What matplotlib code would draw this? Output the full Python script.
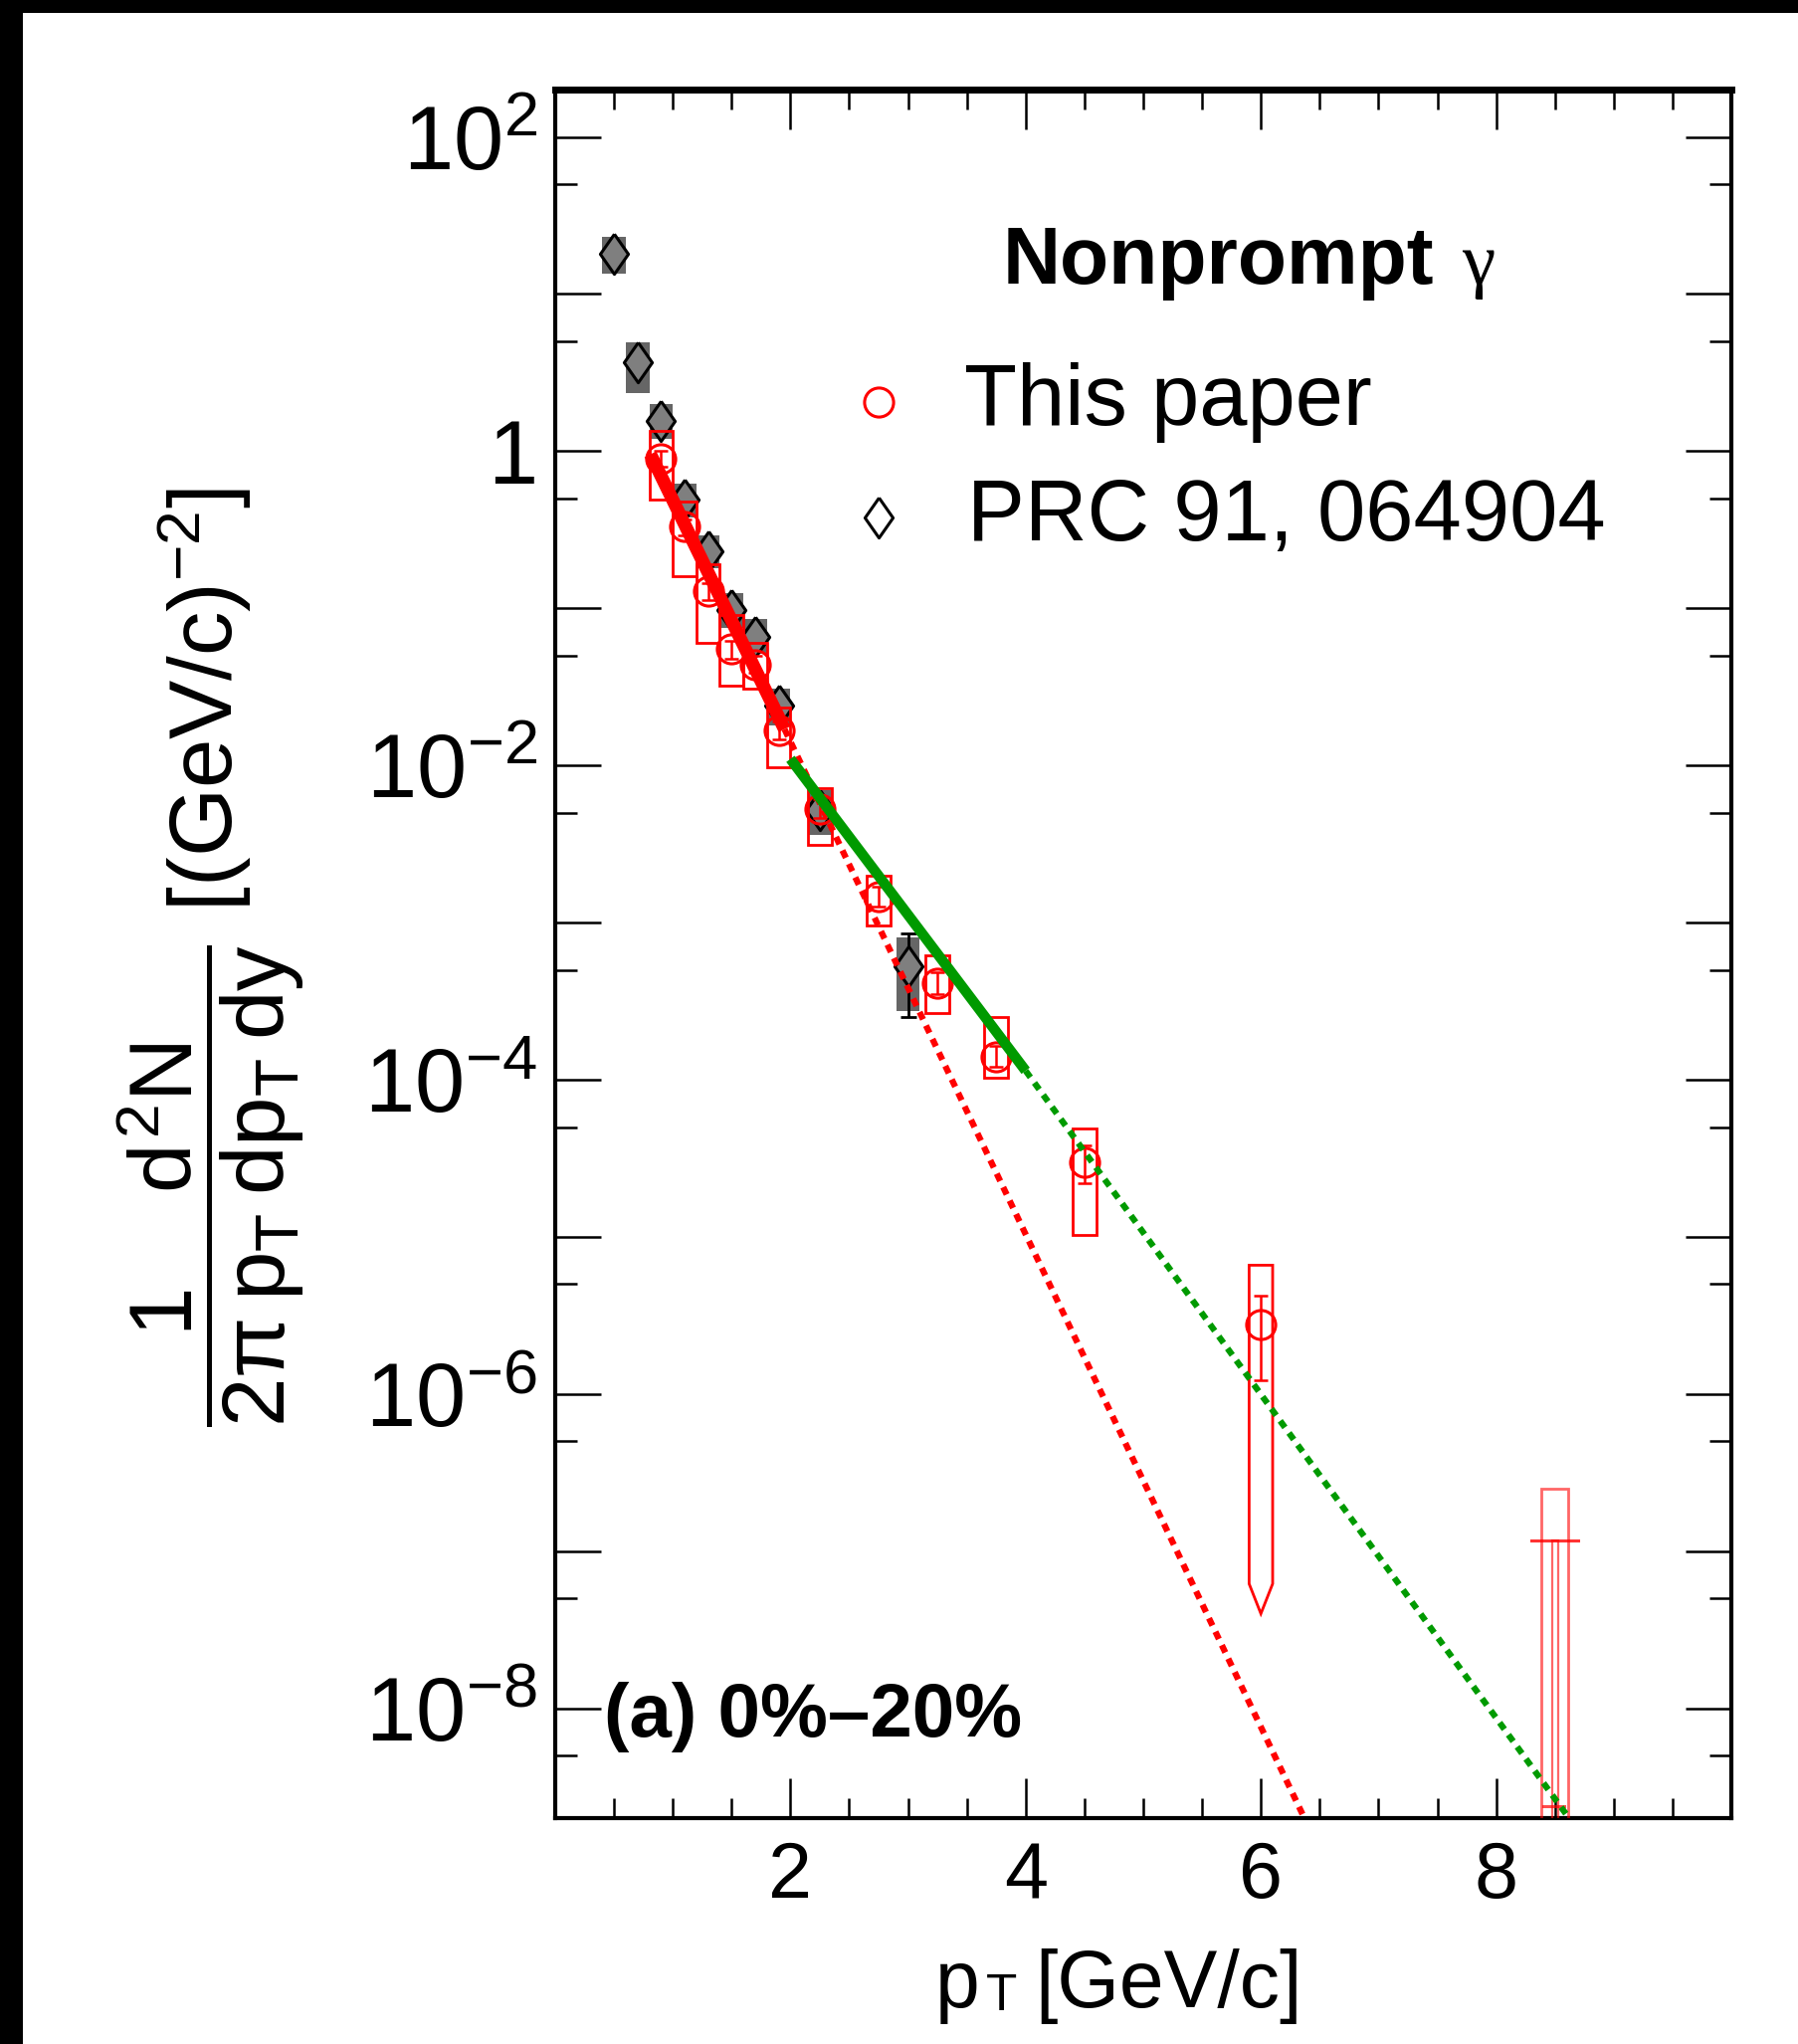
#!/usr/bin/env python3

import matplotlib
matplotlib.use("Agg")
import matplotlib.pyplot as plt
import numpy as np
from matplotlib.patches import Polygon, Rectangle
from matplotlib.ticker import FuncFormatter, LogLocator, MultipleLocator

plt.rcParams["font.family"] = ["Liberation Sans", "DejaVu Sans"]
plt.rcParams["mathtext.fontset"] = "custom"
plt.rcParams["mathtext.rm"] = "Liberation Sans"
plt.rcParams["mathtext.it"] = "Liberation Sans"
plt.rcParams["mathtext.sf"] = "Liberation Sans"
plt.rcParams["mathtext.bf"] = "Liberation Sans:bold"

# PRC 91, 064904 (gray diamonds)
prc_pt = [0.5, 0.7, 0.9, 1.1, 1.3, 1.5, 1.7, 1.9, 2.25, 3.0]
prc_y = [18.0, 3.7, 1.55, 0.49, 0.23, 0.097, 0.066, 0.024, 5.2e-3, 5.3e-4]
prc_sys_lo = [13.5, 2.35, 1.2, 0.38, 0.18, 0.075, 0.051, 0.018, 3.6e-3, 2.75e-4]
prc_sys_hi = [23.0, 4.9, 2.0, 0.62, 0.29, 0.125, 0.085, 0.031, 7.0e-3, 8.1e-4]
prc_stat_lo = [17.0, 3.5, 1.45, 0.46, 0.215, 0.09, 0.061, 0.022, 4.6e-3, 2.5e-4]
prc_stat_hi = [19.0, 3.9, 1.65, 0.52, 0.245, 0.104, 0.071, 0.026, 5.8e-3, 8.5e-4]

# This paper (red open circles)
this_pt = [0.9, 1.1, 1.3, 1.5, 1.7, 1.9, 2.25, 2.75, 3.25, 3.75, 4.5, 6.0]
this_y = [0.9, 0.33, 0.128, 0.055, 0.044, 0.0167, 5.3e-3, 1.46e-3, 4.1e-4, 1.4e-4, 2.97e-5, 2.77e-6]
this_stat_lo = [0.8, 0.29, 0.112, 0.048, 0.039, 0.0147, 4.6e-3, 1.27e-3, 3.5e-4, 1.2e-4, 2.19e-5, 1.23e-6]
this_stat_hi = [1.0, 0.37, 0.145, 0.062, 0.05, 0.019, 6.1e-3, 1.68e-3, 4.8e-4, 1.65e-4, 3.83e-5, 4.2e-6]
this_sys_lo = [0.49, 0.16, 0.060, 0.032, 0.031, 0.0098, 3.1e-3, 9.6e-4, 2.67e-4, 1.03e-4, 1.03e-5, 6.2e-8]
this_sys_hi = [1.34, 0.475, 0.19, 0.091, 0.060, 0.0234, 7.2e-3, 2.0e-3, 6.2e-4, 2.5e-4, 4.9e-5, 6.6e-6]
this_arrow_tip = {6.0: 4.0e-8}

# highest-pT bin (box open towards the bottom)
last_pt = 8.5
last_y = 1.17e-7
last_sys_hi = 2.5e-7
last_floor = 2.4e-9

# exponential fits (straight in log scale): solid fit range, dotted extrapolation
red_fit_pt = [0.81, 1.95]
red_fit_y = [0.955, 0.017]
red_ext_pt = [1.95, 6.37]
red_ext_y = [0.017, 2.0e-9]
green_fit_pt = [2.0, 4.0]
green_fit_y = [0.011, 1.14e-4]
green_ext_pt = [4.0, 8.62]
green_ext_y = [1.14e-4, 2.0e-9]

RED = "#ff0000"
GREEN = "#009a00"
DIAMOND = [(0, 1), (0.7, 0), (0, -1), (-0.7, 0), (0, 1)]


def y_label_fmt(v, pos):
    e = int(round(np.log10(v)))
    if e % 2:
        return ""
    if e == 0:
        return "1"
    return r"$10^{%d}$" % e


def x_label_fmt(v, pos):
    if v <= 0 or v >= 10:
        return ""
    return "%d" % v


def main():
    fig = plt.figure(figsize=(18.08, 20.54), dpi=100)
    ax = fig.add_axes([0.3086, 0.1105, 0.6538, 0.8457])
    ax.set_yscale("log")
    ax.set_xlim(0, 10)
    ax.set_ylim(2.0e-9, 2.0e2)

    hw = 0.1
    # PRC systematic boxes + diamonds
    for x, lo, hi in zip(prc_pt, prc_sys_lo, prc_sys_hi):
        ax.add_patch(Rectangle((x - hw, lo), 2 * hw, hi - lo, facecolor="#666666",
                               edgecolor="none", zorder=2))
    yerr = [np.array(prc_y) - np.array(prc_stat_lo), np.array(prc_stat_hi) - np.array(prc_y)]
    ax.errorbar(prc_pt, prc_y, yerr=yerr, fmt="none", ecolor="black", elinewidth=2,
                capsize=6, capthick=2, zorder=3)
    ax.plot(prc_pt, prc_y, linestyle="none", marker=DIAMOND, markersize=29,
            markerfacecolor="#7f7f7f", markeredgecolor="black", markeredgewidth=2.2, zorder=3)

    # this paper systematic boxes
    for x, lo, hi in zip(this_pt, this_sys_lo, this_sys_hi):
        if x in this_arrow_tip:
            verts = [(x - hw, hi), (x + hw, hi), (x + hw, lo), (x, this_arrow_tip[x]), (x - hw, lo)]
            ax.add_patch(Polygon(verts, closed=True, fill=False, edgecolor=RED, lw=2, zorder=4))
        else:
            ax.add_patch(Rectangle((x - hw, lo), 2 * hw, hi - lo, fill=False,
                                   edgecolor=RED, lw=2, zorder=4))
    yerr = [np.array(this_y) - np.array(this_stat_lo), np.array(this_stat_hi) - np.array(this_y)]
    ax.errorbar(this_pt, this_y, yerr=yerr, fmt="none", ecolor=RED, elinewidth=1.8,
                capsize=5, capthick=1.8, zorder=5)
    ax.plot(this_pt, this_y, linestyle="none", marker="o", markersize=21,
            markerfacecolor="none", markeredgecolor=RED, markeredgewidth=2.2, zorder=5)

    # last bin: open box down to the axis, thin inner bar and horizontal mark
    ax.add_patch(Rectangle((last_pt - 0.115, 1e-11), 0.23, last_sys_hi - 1e-11, fill=False,
                           edgecolor=RED, lw=2, alpha=0.6, zorder=4))
    ax.add_patch(Rectangle((last_pt - 0.025, 1e-11), 0.05, last_y - 1e-11, fill=False,
                           edgecolor=RED, lw=1.6, alpha=0.6, zorder=4))
    ax.plot([last_pt - 0.2, last_pt + 0.2], [last_y, last_y], color=RED, lw=2.2, alpha=0.8, zorder=5)
    ax.plot([last_pt - 0.1, last_pt + 0.08], [last_floor, last_floor], color=RED, lw=2.2, alpha=0.7, zorder=5)

    # fits
    dot = (0, (1.3, 1.1))
    ax.plot(red_ext_pt, red_ext_y, color=RED, lw=4.5, linestyle=dot, zorder=6)
    ax.plot(green_ext_pt, green_ext_y, color=GREEN, lw=4.5, linestyle=dot, zorder=6)
    ax.plot(red_fit_pt, red_fit_y, color=RED, lw=9.5, solid_capstyle="butt", zorder=7)
    ax.plot(green_fit_pt, green_fit_y, color=GREEN, lw=7.5, solid_capstyle="butt", zorder=7)

    # axes style
    for s in ax.spines.values():
        s.set_linewidth(3)
    ax.spines["top"].set_linewidth(5)
    ax.xaxis.set_major_locator(MultipleLocator(2))
    ax.xaxis.set_minor_locator(MultipleLocator(0.5))
    ax.xaxis.set_major_formatter(FuncFormatter(x_label_fmt))
    ax.yaxis.set_major_locator(LogLocator(base=10, subs=[1.0], numticks=30))
    ax.yaxis.set_minor_locator(LogLocator(base=10, subs=[5.0], numticks=30))
    ax.yaxis.set_major_formatter(FuncFormatter(y_label_fmt))
    ax.yaxis.set_minor_formatter(FuncFormatter(lambda v, p: ""))
    ax.tick_params(which="both", direction="in", top=True, right=True, width=1.8)
    ax.tick_params(axis="x", which="major", length=29, labelsize=57, pad=16)
    ax.tick_params(axis="x", which="minor", length=14.5)
    ax.tick_params(axis="y", which="major", length=33, labelsize=65, pad=13)
    ax.tick_params(axis="y", which="minor", length=16)

    # legend & annotations
    ax.text(0.3805, 0.8877, "Nonprompt", transform=ax.transAxes, fontsize=58,
            fontweight="bold", ha="left", va="baseline")
    ax.text(0.7707, 0.8877, "γ", transform=ax.transAxes, fontsize=54,
            family=["Liberation Serif", "DejaVu Serif"], ha="left", va="baseline")
    ax.plot([0.2747], [0.8192], transform=ax.transAxes, marker="o", markersize=21,
            markerfacecolor="none", markeredgecolor=RED, markeredgewidth=2.2, clip_on=False)
    ax.plot([0.2747], [0.7524], transform=ax.transAxes, marker=DIAMOND, markersize=29,
            markerfacecolor="white", markeredgecolor="black", markeredgewidth=2.2, clip_on=False)
    ax.text(0.348, 0.8062, "This paper", transform=ax.transAxes, fontsize=62.5,
            ha="left", va="baseline")
    ax.text(0.350, 0.739, "PRC 91, 064904", transform=ax.transAxes, fontsize=62.5,
            ha="left", va="baseline")
    ax.text(0.0415, 0.0472, "(a) 0%\u201320%", transform=ax.transAxes, fontsize=55,
            fontweight="bold", ha="left", va="baseline")

    # axis titles
    fig.text(0.1173, 0.5317,
             r"$\dfrac{1\quad\; d^{2}N}{2\pi\:p_{T}\:dp_{T}\:dy}\ [(GeV/c)^{-2}]$",
             rotation=90, fontsize=64, ha="center", va="center")
    fig.text(0.5197, 0.01801, "p", fontsize=58, ha="left", va="baseline")
    fig.text(0.5481, 0.01655, "T", fontsize=37, ha="left", va="baseline")
    fig.text(0.5752, 0.01801, "[GeV/c]", fontsize=58, ha="left", va="baseline")

    # black frame remnants at top and left edge
    fig.patches.append(Rectangle((0, 1 - 13 / 2054), 1, 13 / 2054, transform=fig.transFigure,
                                 facecolor="black", edgecolor="none"))
    fig.patches.append(Rectangle((0, 0), 23 / 1808, 1, transform=fig.transFigure,
                                 facecolor="black", edgecolor="none"))

    fig.savefig("out.png", dpi=100, facecolor="white")


if __name__ == "__main__":
    main()
